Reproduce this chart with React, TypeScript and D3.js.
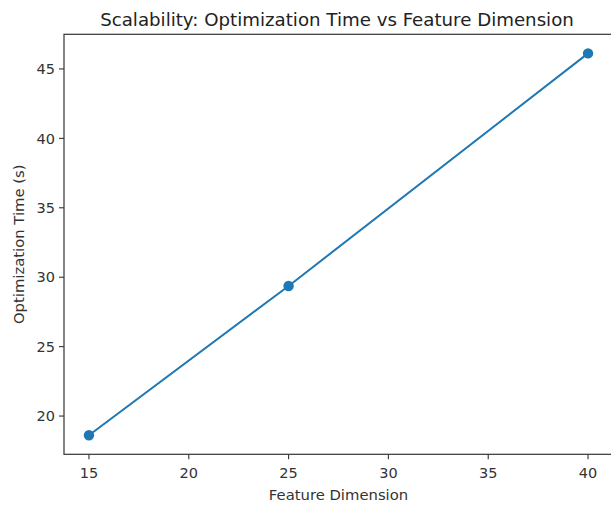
import React from "react";
import * as d3 from "d3";

const featureDims = [15, 25, 40];
const optTimes = [18.62, 29.37, 46.12];
const xTicks = [15, 20, 25, 30, 35, 40];
const yTicks = [20, 25, 30, 35, 40, 45];
const title = "Scalability: Optimization Time vs Feature Dimension";
const xLabel = "Feature Dimension";
const yLabel = "Optimization Time (s)";

export default function App() {
  const W = 611, H = 506;
  const left = 64, right = 613, top = 34.3, bottom = 454.3;
  const xs = d3.scaleLinear().domain([13.75, 41.25]).range([left, right]);
  const yMin = 18.62, yMax = 46.12, pad = (yMax - yMin) * 0.05;
  const ys = d3.scaleLinear().domain([yMin - pad, yMax + pad]).range([bottom, top]);
  const line = d3.line<number>().x((_, i) => xs(featureDims[i])).y((d) => ys(d));
  const font = "DejaVu Sans, sans-serif";
  const c = "#1f77b4";
  return (
    <svg width={W} height={H} style={{ position: "absolute", left: 0, top: 0, background: "#fff" }}>
      <text x={(98 + 576) / 2} y={26} textAnchor="middle" fontFamily={font} fontSize={18.2} fill="#222">{title}</text>
      <path d={line(optTimes) || ""} fill="none" stroke={c} strokeWidth={2} />
      {optTimes.map((v, i) => (
        <circle key={i} cx={xs(featureDims[i])} cy={ys(v)} r={5.2} fill={c} />
      ))}
      <rect x={left} y={top} width={right - left} height={bottom - top} fill="none" stroke="#333" strokeWidth={1.2} />
      {xTicks.map((t) => (
        <g key={t}>
          <line x1={xs(t)} x2={xs(t)} y1={bottom} y2={bottom + 5} stroke="#333" strokeWidth={1.1} />
          <text x={xs(t)} y={478} textAnchor="middle" fontFamily={font} fontSize={14.5} fill="#333">{t}</text>
        </g>
      ))}
      {yTicks.map((t) => (
        <g key={t}>
          <line x1={left - 5} x2={left} y1={ys(t)} y2={ys(t)} stroke="#333" strokeWidth={1.1} />
          <text x={left - 9} y={ys(t) + 5.2} textAnchor="end" fontFamily={font} fontSize={14.5} fill="#333">{t}</text>
        </g>
      ))}
      <text x={(left + right) / 2} y={500} textAnchor="middle" fontFamily={font} fontSize={14.8} fill="#333">{xLabel}</text>
      <text transform={`translate(23.5, ${(top + bottom) / 2}) rotate(-90)`} textAnchor="middle" fontFamily={font} fontSize={14.8} fill="#333">{yLabel}</text>
    </svg>
  );
}
